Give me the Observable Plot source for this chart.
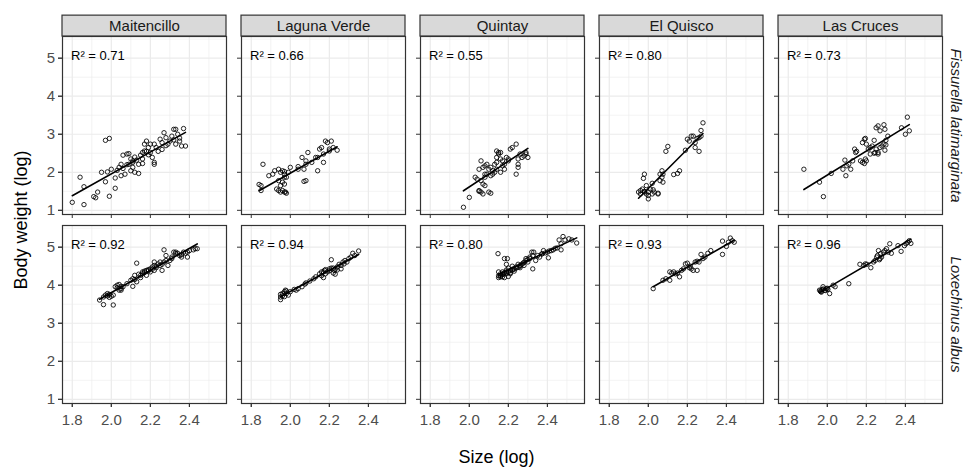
<!DOCTYPE html>
<html>
<head>
<meta charset="utf-8">
<script src="https://cdn.jsdelivr.net/npm/d3@7"></script>
<script src="https://cdn.jsdelivr.net/npm/@observablehq/plot@0.6"></script>
<style>
  html, body { margin: 0; padding: 0; background: #fff; }
  #chart svg { display: block; }
</style>
</head>
<body>
<div id="chart"></div>
<script>
// Facet categories
const sites = ["Maitencillo", "Laguna Verde", "Quintay", "El Quisco", "Las Cruces"];
const species = ["Fissurella latimarginata", "Loxechinus albus"];

// Coefficients of determination shown in each panel
const r2Fissurella = [0.71, 0.66, 0.55, 0.80, 0.73];
const r2Loxechinus = [0.92, 0.94, 0.80, 0.93, 0.96];

// Axis ticks
const xTicks = [1.8, 2.0, 2.2, 2.4];
const xMinor = [1.9, 2.1, 2.3, 2.5];
const yTicks = [1, 2, 3, 4, 5];
const yMinor = [1.5, 2.5, 3.5, 4.5, 5.5];

// Observations: [size (log), body weight (log)]
const flMaitencillo = [
  [1.80,1.21],[1.86,1.15],[1.91,1.36],[1.92,1.33],[1.93,1.48],[1.99,1.37],
  [1.84,1.87],[1.86,1.62],[1.97,2.84],[1.99,2.89],[2.02,1.58],[1.95,2.00],[1.98,2.01],
  [2.00,2.08],[2.04,2.13],[2.05,2.21],[2.06,2.45],[2.08,2.48],[2.09,2.49],[2.07,1.95],
  [2.05,1.91],[2.09,2.21],[2.11,2.26],[2.11,2.30],[2.13,2.32],[2.14,2.21],[2.12,2.00],
  [2.14,1.97],[2.16,2.23],[2.16,2.35],[2.17,2.56],[2.17,2.74],[2.18,2.82],[2.19,2.65],
  [2.20,2.52],[2.21,2.39],[2.22,2.74],[2.22,2.26],[2.23,2.65],[2.25,2.87],[2.26,2.78],
  [2.27,3.04],[2.28,2.91],[2.29,2.74],[2.30,2.82],[2.31,2.95],[2.32,3.13],[2.33,3.13],
  [2.33,2.74],[2.34,3.00],[2.35,2.82],[2.36,2.69],[2.37,3.15],[2.38,2.69],[2.20,2.74],
  [2.19,2.46],[2.16,2.52],[2.22,2.21],[2.11,2.13],[2.10,2.04],[2.03,2.05],[2.06,2.10],
  [2.08,2.20],[2.12,2.40],[2.15,2.45],[2.18,2.55],[2.24,2.55],[2.26,2.60],[2.28,2.70],
  [2.32,2.85],[2.35,2.90],[2.02,1.85],[1.97,1.75],[2.10,2.35]
];
const flLagunaVerde = [
  [1.86,2.21],[1.84,1.68],[1.85,1.65],[1.89,1.91],[1.91,1.95],[1.92,2.04],[1.94,2.08],
  [1.95,2.00],[1.96,2.04],[1.97,1.95],[1.97,2.02],[2.00,2.13],[1.98,1.87],[1.94,1.78],
  [1.93,1.56],[1.94,1.52],[1.96,1.52],[1.97,1.48],[1.95,1.65],[1.96,1.74],[1.97,1.69],
  [2.04,2.15],[2.06,2.39],[2.07,2.08],[2.08,2.21],[2.09,2.52],[2.08,2.30],[2.11,2.26],
  [2.14,2.04],[2.13,2.39],[2.14,2.39],[2.15,2.61],[2.16,2.65],[2.17,2.48],[2.18,2.82],
  [2.19,2.78],[2.20,2.61],[2.20,2.56],[2.21,2.82],[2.22,2.65],[2.24,2.58],[2.17,2.26],
  [2.08,1.78],[2.07,1.76],[2.04,2.08],[1.99,2.00],[1.97,1.87],
  [1.85,1.52],[1.95,1.48],[1.975,1.48],[1.98,1.45]
];
const flQuintay = [
  [2.06,2.30],[2.05,2.08],[2.07,2.13],[2.08,2.17],[2.09,2.21],[2.10,2.08],[2.11,2.13],
  [2.12,2.04],[2.13,2.21],[2.14,2.26],[2.14,2.39],[2.15,2.52],[2.15,2.48],[2.16,2.35],
  [2.17,2.30],[2.18,2.21],[2.19,2.39],[2.20,2.35],[2.20,2.30],[2.21,2.61],[2.22,2.65],
  [2.24,2.74],[2.25,2.21],[2.25,2.35],[2.25,2.13],[2.24,1.95],[2.26,2.48],[2.27,2.39],
  [2.28,2.43],[2.29,2.48],[2.29,2.52],[2.30,2.39],[2.03,1.87],[2.04,1.82],[2.06,1.78],
  [2.07,1.69],[2.08,1.65],[2.05,1.52],[2.06,1.48],[2.10,1.48],[2.08,1.95],[2.09,1.95],
  [2.11,1.91],[2.12,1.95],[2.13,2.00],[2.14,2.08],[2.16,2.00],[2.17,2.17],[2.18,2.08],
  [2.08,1.87],[2.14,2.56],[2.16,2.52],
  [1.97,1.08],[2.00,1.34],[2.05,1.50],[2.07,1.43],[2.11,1.45]
];
const flElQuisco = [
  [2.28,3.30],[2.27,3.10],[2.27,2.95],[2.26,2.91],[2.25,2.89],[2.23,2.95],[2.22,2.95],
  [2.20,2.87],[2.21,2.82],[2.24,2.78],[2.24,2.65],[2.26,2.55],[2.19,2.58],[2.10,2.68],
  [2.09,2.55],[2.07,2.04],[2.075,1.95],[2.07,1.87],[2.06,1.78],[2.075,1.74],[2.06,1.95],
  [2.16,2.04],[2.15,1.97],[2.13,1.94],[1.98,1.95],[1.975,1.84],[2.02,1.71],[1.99,1.65],
  [1.97,1.56],[1.95,1.48],[1.96,1.52],[2.01,1.56],[2.025,1.54],[2.03,1.48],[2.05,1.45],
  [2.00,1.48],[1.98,1.48],
  [1.96,1.43],[1.98,1.50],[1.99,1.43],[2.00,1.39],[2.00,1.30],[2.02,1.43],[2.05,1.43]
];
const flLasCruces = [
  [1.88,2.08],[1.96,1.74],[2.02,1.97],[2.08,2.08],[2.09,2.32],[2.095,1.91],[2.10,2.17],
  [2.11,2.21],[2.12,2.08],[2.13,2.30],[2.14,2.61],[2.145,2.52],[2.15,2.55],[2.17,2.30],
  [2.18,2.26],[2.19,2.23],[2.195,2.35],[2.20,2.30],[2.18,2.78],[2.19,2.87],[2.195,2.89],
  [2.20,2.74],[2.21,2.61],[2.22,2.65],[2.23,2.69],[2.24,2.84],[2.245,2.52],[2.25,2.61],
  [2.26,2.48],[2.27,2.65],[2.28,2.69],[2.29,2.74],[2.295,2.58],[2.30,2.72],[2.30,2.84],
  [2.31,2.95],[2.25,3.17],[2.26,3.22],[2.27,3.09],[2.29,3.25],[2.295,3.13],[2.38,3.17],
  [2.40,3.00],[2.41,3.45],[2.42,3.09],[2.26,2.52],[2.24,2.50],[2.22,2.48],
  [1.98,1.36]
];
const laMaitencillo = [
  [1.94,3.61],[1.96,3.49],[1.96,3.69],[1.97,3.74],[1.98,3.78],[1.99,3.76],[1.99,3.68],
  [2.00,3.71],[2.01,3.74],[2.01,3.48],[2.02,3.96],[2.03,4.00],[2.04,4.02],[2.05,3.97],
  [2.05,3.87],[2.04,3.87],[2.11,3.97],[2.11,4.17],[2.12,4.26],[2.13,4.09],[2.14,4.29],
  [2.13,4.58],[2.15,4.26],[2.16,4.30],[2.16,4.35],[2.17,4.37],[2.18,4.39],[2.19,4.41],
  [2.20,4.43],[2.21,4.48],[2.22,4.61],[2.22,4.52],[2.23,4.46],[2.24,4.56],[2.25,4.61],
  [2.26,4.39],[2.27,4.93],[2.27,4.61],[2.28,4.78],[2.29,4.52],[2.30,4.65],[2.31,4.74],
  [2.32,4.87],[2.33,4.83],[2.33,4.87],[2.34,4.84],[2.35,4.78],[2.36,4.74],[2.37,4.87],
  [2.39,4.74],[2.38,4.84],[2.39,4.87],[2.40,4.91],[2.42,4.93],[2.43,4.96],[2.44,4.96],
  [2.10,4.13],[2.08,4.04],[2.06,3.96],[2.05,3.91],[2.15,4.20],[2.18,4.26],[2.20,4.35],
  [2.22,4.39],[2.25,4.52],[2.28,4.65],[2.17,4.33],[2.19,4.38],[2.21,4.42],[2.23,4.50],
  [2.12,4.15],[1.98,3.72],[2.03,3.93],[2.31,4.70],[2.36,4.80],[2.26,4.55]
];
const laLagunaVerde = [
  [1.95,3.76],[1.95,3.69],[1.95,3.62],[1.96,3.78],[1.97,3.83],[1.975,3.87],[1.98,3.85],
  [1.99,3.74],[2.00,3.83],[2.02,3.89],[2.03,3.87],[2.04,3.91],[2.06,3.96],[2.075,4.03],
  [2.08,4.06],[2.10,4.11],[2.12,4.17],[2.13,4.22],[2.15,4.30],[2.16,4.35],[2.17,4.20],
  [2.175,4.39],[2.18,4.41],[2.20,4.43],[2.21,4.67],[2.22,4.32],[2.225,4.39],[2.23,4.29],
  [2.24,4.48],[2.25,4.55],[2.26,4.43],[2.27,4.61],[2.275,4.56],[2.28,4.65],[2.29,4.61],
  [2.30,4.70],[2.31,4.74],[2.32,4.84],[2.33,4.78],[2.35,4.90],[2.19,4.35],[2.17,4.35],
  [2.26,4.52],[1.96,3.72],[1.97,3.70],[1.98,3.78],[2.20,4.38],[2.21,4.45],[2.23,4.42],
  [2.24,4.40],[2.22,4.45],[2.18,4.30],[2.16,4.25]
];
const laQuintay = [
  [2.147,4.83],[2.18,4.70],[2.195,4.70],[2.19,4.55],[2.325,4.43],[2.15,4.35],[2.16,4.26],
  [2.15,4.20],[2.17,4.22],[2.18,4.20],[2.20,4.23],[2.175,4.30],[2.19,4.35],[2.21,4.39],
  [2.225,4.43],[2.24,4.48],[2.26,4.52],[2.275,4.58],[2.29,4.65],[2.31,4.74],[2.32,4.87],
  [2.33,4.87],[2.325,4.78],[2.34,4.65],[2.36,4.74],[2.375,4.83],[2.38,4.91],[2.40,4.87],
  [2.405,4.72],[2.42,4.91],[2.43,4.93],[2.45,4.98],[2.47,5.09],[2.47,4.93],[2.46,5.19],
  [2.48,5.28],[2.49,5.19],[2.51,5.22],[2.525,5.19],[2.55,5.11],[2.21,4.30],[2.23,4.37],
  [2.26,4.46],[2.28,4.52],[2.30,4.61],[2.16,4.30],[2.17,4.28],[2.18,4.33],[2.19,4.30],
  [2.20,4.35],[2.21,4.33],[2.22,4.40],[2.23,4.42],[2.24,4.45],[2.25,4.47],[2.26,4.50],
  [2.27,4.55],[2.28,4.60],[2.30,4.68],[2.31,4.70],[2.35,4.78],[2.37,4.82],[2.39,4.85],
  [2.41,4.90],[2.44,4.97],[2.15,4.25],[2.16,4.22],[2.17,4.35],[2.19,4.40],[2.20,4.45],
  [2.22,4.50],[2.25,4.55],[2.29,4.70]
];
const laElQuisco = [
  [2.025,3.91],[2.075,4.13],[2.09,4.17],[2.11,4.13],[2.11,4.35],[2.12,4.32],[2.13,4.35],
  [2.14,4.30],[2.16,4.22],[2.17,4.39],[2.18,4.43],[2.19,4.56],[2.20,4.58],[2.21,4.46],
  [2.215,4.50],[2.22,4.43],[2.23,4.39],[2.24,4.61],[2.25,4.39],[2.25,4.63],[2.26,4.61],
  [2.27,4.81],[2.28,4.70],[2.29,4.74],[2.305,4.84],[2.32,4.91],[2.38,4.81],[2.38,5.16],
  [2.40,5.02],[2.41,5.13],[2.42,5.24],[2.43,5.17],[2.44,5.13],[2.15,4.32]
];
const laLasCruces = [
  [1.96,3.87],[1.967,3.83],[1.973,3.89],[1.978,3.96],[1.987,3.87],[1.995,3.91],[2.003,3.89],
  [2.012,3.78],[2.03,4.00],[2.04,3.96],[2.11,4.04],[2.167,4.55],[2.187,4.52],[2.195,4.56],
  [2.223,4.46],[2.237,4.61],[2.245,4.65],[2.253,4.74],[2.262,4.91],[2.267,4.67],[2.273,4.83],
  [2.278,4.74],[2.287,4.87],[2.295,4.91],[2.303,4.96],[2.312,4.87],[2.32,5.09],[2.328,4.84],
  [2.362,5.04],[2.378,4.89],[2.395,5.04],[2.403,5.09],[2.412,5.13],[2.42,5.17],[2.428,5.10],
  [2.27,4.70],[2.257,4.78],[2.203,4.55],[1.965,3.85],[1.97,3.82],[1.98,3.90],[1.99,3.86],
  [2.00,3.92]
];

const fissurellaPanels = [flMaitencillo, flLagunaVerde, flQuintay, flElQuisco, flLasCruces];
const loxechinusPanels = [laMaitencillo, laLagunaVerde, laQuintay, laElQuisco, laLasCruces];

// Long-format table for faceting
const rows = [];
const labels = [];
[[species[0], fissurellaPanels, r2Fissurella], [species[1], loxechinusPanels, r2Loxechinus]]
  .forEach(([sp, panels, r2]) => {
    panels.forEach((pts, i) => {
      pts.forEach(([x, y]) => rows.push({species: sp, site: sites[i], x, y}));
      labels.push({species: sp, site: sites[i], text: `R\u00B2 = ${r2[i].toFixed(2)}`});
    });
  });

// Layout
const width = 965, height = 470;
const marginTop = 35, marginBottom = 66, marginLeft = 60, marginRight = 20;
const xDomain = [1.75, 2.59];
const yDomain = [0.89, 5.57];
const rowPadding = 0.0564;
const stripHeight = 21;
const panelHeight = (height - marginTop - marginBottom) * (1 - rowPadding) / (2 - rowPadding);
const stripTop = yDomain[1] + stripHeight * (yDomain[1] - yDomain[0]) / panelHeight;

const font = "'Liberation Sans', Arial, Helvetica, sans-serif";
const gridColor = "#EBEBEB";
const borderColor = "#333333";

const chart = Plot.plot({
  width, height, marginTop, marginBottom, marginLeft, marginRight,
  style: {fontFamily: font, fontSize: "15px", background: "#fff"},
  x: {domain: xDomain},
  y: {domain: yDomain},
  fx: {domain: sites, padding: 0.0833, axis: null},
  fy: {domain: species, padding: rowPadding, axis: null},
  marks: [
    // grid
    Plot.gridX(xMinor, {facetAnchor: null, stroke: gridColor, strokeOpacity: 1, strokeWidth: 0.6}),
    Plot.gridY(yMinor, {facetAnchor: null, stroke: gridColor, strokeOpacity: 1, strokeWidth: 0.6}),
    Plot.gridX(xTicks, {facetAnchor: null, stroke: gridColor, strokeOpacity: 1, strokeWidth: 1.2}),
    Plot.gridY(yTicks, {facetAnchor: null, stroke: gridColor, strokeOpacity: 1, strokeWidth: 1.2}),

    // tick marks on every panel
    Plot.axisX(xTicks, {facetAnchor: null, tickSize: 4, fill: "none", label: null, stroke: borderColor}),
    Plot.axisY(yTicks, {facetAnchor: null, tickSize: 4, fill: "none", label: null, stroke: borderColor}),
    // tick labels on the outer panels
    Plot.axisX(xTicks, {tickSize: 4, tickPadding: 7, tickFormat: (d) => d.toFixed(1),
      fill: "#4D4D4D", stroke: borderColor, label: null, fontSize: 15}),
    Plot.axisY(yTicks, {tickSize: 4, tickPadding: 3.5, tickFormat: (d) => String(d),
      fill: "#4D4D4D", stroke: borderColor, label: null, fontSize: 15}),

    // observations and fitted lines
    Plot.dot(rows, {x: "x", y: "y", fx: "site", fy: "species", r: 2.2,
      stroke: "#000", strokeWidth: 0.85, fill: "none"}),
    Plot.linearRegressionY(rows, {x: "x", y: "y", fx: "site", fy: "species",
      stroke: "#000", strokeWidth: 1.6, ci: 0}),

    // R² annotations
    Plot.text(labels, {fx: "site", fy: "species", text: "text", frameAnchor: "top-left",
      dx: 8.5, dy: 19.5, textAnchor: "start", lineAnchor: "middle", fontSize: 13, fill: "#000"}),

    // panel borders
    Plot.frame({stroke: borderColor, strokeWidth: 1.2}),

    // column strips
    Plot.rect(sites, {fx: (d) => d, fy: () => species[0], x1: () => xDomain[0], x2: () => xDomain[1],
      y1: () => yDomain[1], y2: () => stripTop, fill: "#D9D9D9", stroke: borderColor, strokeWidth: 1.2}),
    Plot.text(sites, {fx: (d) => d, fy: () => species[0], text: (d) => d, frameAnchor: "top",
      dy: -10, lineAnchor: "middle", textAnchor: "middle", fontSize: 15, fill: "#1A1A1A"}),

    // row strips
    Plot.text(species, {fy: (d) => d, fx: () => sites[sites.length - 1], text: (d) => d,
      frameAnchor: "right", dx: 13, rotate: 90, textAnchor: "middle", lineAnchor: "middle",
      fontSize: 15, fontStyle: "italic", fill: "#1A1A1A"}),

    // axis titles
    Plot.text(["Size (log)"], {facet: "super", frameAnchor: "bottom", dx: -6, dy: 54,
      textAnchor: "middle", lineAnchor: "middle", fontSize: 18, fill: "#000"}),
    Plot.text(["Body weight (log)"], {facet: "super", frameAnchor: "left", dx: -41,
      rotate: -90, textAnchor: "middle", lineAnchor: "middle", fontSize: 18, fill: "#000"})
  ]
});

document.getElementById("chart").appendChild(chart);
</script>
</body>
</html>
